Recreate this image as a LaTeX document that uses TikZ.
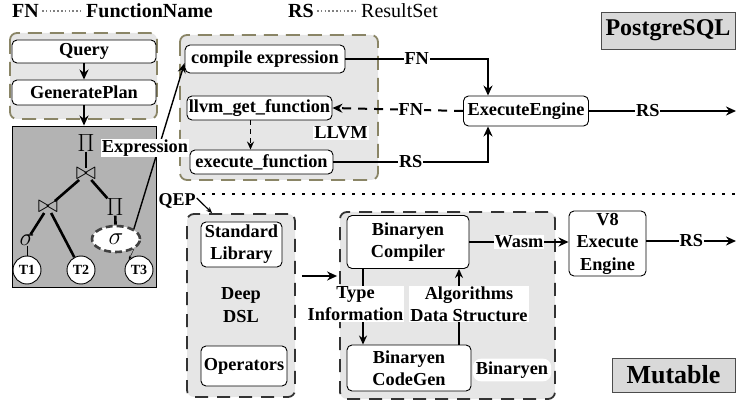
\documentclass[tikz,border=0pt]{standalone}
\usepackage{fontspec}
\setmainfont{Liberation Serif}
\usetikzlibrary{arrows.meta,positioning,shapes.geometric}
\definecolor{olivedash}{HTML}{8A8566}
\definecolor{paleback}{HTML}{E6E6E6}
\definecolor{treeback}{HTML}{B3B3B3}
\definecolor{tagback}{HTML}{D9D9D9}
\newcommand\boxfont{\bfseries\fontsize{18.3}{22}\selectfont}
\tikzset{
  unit/.style={draw, rounded corners=5pt, fill=white, font=\boxfont, align=center, inner sep=1pt, line width=0.9pt},
  llvmgroup/.style={draw=olivedash, dash pattern=on 14pt off 8pt, rounded corners=7pt, fill=paleback, line width=1.8pt},
  wasmgroup/.style={draw=black!80, dash pattern=on 13pt off 9pt, rounded corners=7pt, fill=paleback, line width=1.8pt, font=\bfseries\fontsize{18.3}{23}\selectfont, align=center},
  flow/.style={-{Stealth[length=10pt,width=9pt]}, line width=2pt},
  tag/.style={fill=white, font=\boxfont, inner sep=1pt, align=center},
  treeline/.style={line width=2.6pt},
  leaf/.style={circle, draw, fill=white, minimum size=28pt, inner sep=0pt, font=\bfseries\fontsize{14}{14}\selectfont, line width=0.9pt},
  op/.style={inner sep=0pt, font=\fontsize{26}{26}\selectfont},
  dbname/.style={draw=black!70, fill=tagback, line width=0.9pt, font=\bfseries\fontsize{24}{24}\selectfont, inner sep=0pt},
  keytext/.style={anchor=base west, inner sep=0pt, font=\bfseries\fontsize{20}{20}\selectfont},
}
\begin{document}
\begin{tikzpicture}[x=1pt, y=-1pt]
\useasboundingbox (0,0) rectangle (738,403);
% legend
\node[keytext] (fnkey) at (12,18) {FN};
\node[keytext] (fnname) at (86,18) {FunctionName};
\node[keytext] (rskey) at (288,18) {RS};
\node[keytext, font=\fontsize{20}{20}\selectfont] (rsname) at (361,18) {ResultSet};
\draw[gray, line width=1.4pt, dash pattern=on 1.6pt off 2.2pt] ([xshift=3pt]fnkey.east |- 0,11) -- ([xshift=-5pt]fnname.west |- 0,11);
\draw[gray, line width=1.4pt, dash pattern=on 1.6pt off 2.2pt] ([xshift=3pt]rskey.east |- 0,11) -- ([xshift=-5pt]rsname.west |- 0,11);
\node[dbname, minimum width=134pt, minimum height=37pt] (pgsql) at (668,30.5) {PostgreSQL};
\node[dbname, minimum width=123pt, minimum height=34pt, font=\bfseries\fontsize{26}{26}\selectfont] (mutable) at (673.5,375) {Mutable};

% PostgreSQL side
\draw[llvmgroup] (10,33) rectangle (157,119);
\node[unit, minimum width=144pt, minimum height=23pt] (query) at (84,51.5) {Query};
\node[unit, minimum width=144pt, minimum height=25pt] (genplan) at (84,92.5) {GeneratePlan};
\node[draw, fill=treeback, line width=0.9pt, minimum width=144pt, minimum height=161pt] (tree) at (84,206.5) {};
\draw[flow] (query) -- (genplan);
\draw[flow] (genplan) -- (tree);

% plan tree
\node[op] (pitop) at (86,143) {$\Pi$};
\node[op] (join) at (86,174) {$\bowtie$};
\node[op] (ljoin) at (48,207) {$\bowtie$};
\node[op] (rpi) at (115,207) {$\Pi$};
\node[op] (lsig) at (27,240) {$\sigma$};
\node[ellipse, draw=black!75, fill=white, dash pattern=on 7pt off 4pt, line width=2.6pt, minimum width=48pt, minimum height=26pt, inner sep=0pt, font=\fontsize{24}{24}\selectfont] (rsig) at (116,239) {$\sigma$};
\node[leaf] (tone) at (27,270) {T1};
\node[leaf] (ttwo) at (81,270) {T2};
\node[leaf] (tthree) at (139,270) {T3};
\draw[treeline] (pitop) -- (join);
\draw[treeline] (join) -- (ljoin);
\draw[treeline] (join) -- (rpi);
\draw[treeline] (ljoin) -- (lsig);
\draw[treeline] (ljoin) -- (ttwo);
\draw[treeline] (rpi) -- (rsig);
\draw (lsig) -- (tone);
\draw[-{Stealth[length=4pt]}] (rsig.south east) -- (tthree.north west);

% LLVM
\draw[llvmgroup] (180,35) rectangle (378,180);
\node[unit, minimum width=160pt, minimum height=28pt] (compile) at (265,59) {compile expression};
\node[unit, minimum width=145pt, minimum height=24pt] (llvmget) at (259.5,108) {llvm\_get\_function};
\node[unit, minimum width=143pt, minimum height=24pt] (execfun) at (261.5,162) {execute\_function};
\node[tag] (llvm) at (341,133) {LLVM};
\draw[-{Stealth[length=8pt,width=7pt]}, line width=1.4pt, dash pattern=on 5pt off 4pt] ([xshift=-9pt]llvmget.south) -- ([xshift=-11pt]execfun.north);
\draw[line width=1.4pt, -{Stealth[length=10pt,width=8pt]}] (rsig.north east) -- ([yshift=-4pt]compile.west);
\node[tag] (expr) at (145,148) {Expression};

\node[unit, minimum width=125pt, minimum height=30pt] (execeng) at (526,111) {ExecuteEngine};
\draw[flow] (compile.east) -| node[tag, pos=0.25] {FN} ([xshift=-38pt]execeng.north);
\draw[flow] (execfun.east) -| node[tag, pos=0.25] {RS} ([xshift=-38pt]execeng.south);
\draw[flow, dash pattern=on 9pt off 7pt] (execeng.west) -- node[tag, pos=0.4] {FN} (llvmget.east);
\coordinate (pgout) at (736,111);
\draw[flow] (execeng.east) -- node[tag, pos=0.4] {RS} (pgout);

% Mutable side
\draw[line width=2.5pt, dash pattern=on 2.5pt off 7.5pt] (162,194) -- (738,194);
\node[wasmgroup, minimum width=108pt, minimum height=183pt] (deepdsl) at (241,305.5) {Deep\\DSL};
\node[unit, minimum width=81pt, minimum height=45pt] (stdlib) at (241.5,244.5) {Standard\\Library};
\node[unit, minimum width=86pt, minimum height=40pt] (operators) at (244,366) {Operators};
\node[tag, font=\bfseries\fontsize{18}{18}\selectfont] (qep) at (177,201) {QEP};
\draw[-{Stealth[length=6pt,width=5pt]}, line width=1.2pt] ([yshift=3pt]qep.east) -- ([xshift=26pt]deepdsl.north west);

\node[wasmgroup, minimum width=215pt, minimum height=187pt] (binaryen) at (447.5,305.5) {};
\node[unit, minimum width=122pt, minimum height=53pt] (compiler) at (408,242) {Binaryen\\Compiler};
\node[unit, minimum width=124pt, minimum height=46pt] (codegen) at (409,368) {Binaryen\\CodeGen};
\draw[-{Stealth[length=9pt,width=8pt]}, line width=1.8pt] ([xshift=-45pt]compiler.south) -- ([xshift=-46pt]codegen.north);
\draw[-{Stealth[length=9pt,width=8pt]}, line width=1.8pt] ([xshift=50pt]codegen.north) -- ([xshift=51pt]compiler.south);
\node[tag] (typeinfo) at (355.5,304) {Type\\Information};
\node[tag] (algo) at (469,304) {Algorithms\\Data Structure};
\node[tag, rounded corners=8pt, inner sep=3pt] (binlabel) at (512,370) {Binaryen};
\draw[flow] ([xshift=6pt, yshift=29.5pt]deepdsl.east) -- ([xshift=-2pt, yshift=29.5pt]binaryen.west |- deepdsl.east);

\node[unit, minimum width=77pt, minimum height=65pt, font=\bfseries\fontsize{18.3}{22.5}\selectfont] (veight) at (607.5,243.5) {V8\\Execute\\Engine};
\draw[flow] (compiler.east) -- node[tag] {Wasm} (veight.west |- compiler.east);
\coordinate (mtout) at (736,241);
\draw[flow] (veight.east |- mtout) -- node[tag] {RS} (mtout);
\end{tikzpicture}
\end{document}
